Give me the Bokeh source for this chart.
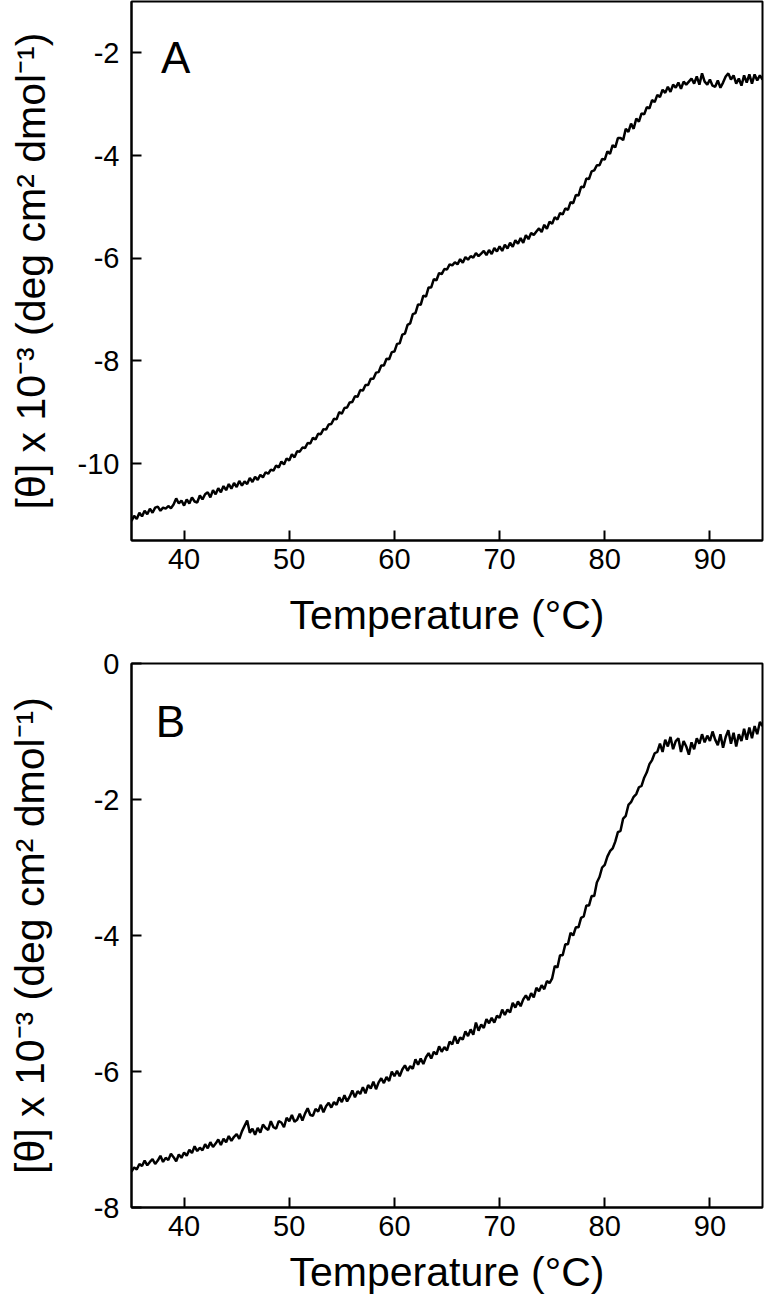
from bokeh.plotting import figure
from bokeh.layouts import column
from bokeh.models import Range1d, FixedTicker, Label
from bokeh.embed import file_html
from bokeh.resources import INLINE

# ---------------- data ----------------
theta_a = [
    -11.12, -11.02, -11.08, -10.96, -11.03, -10.92, -10.99, -10.88,  # 35-36.75
    -10.96, -10.86, -10.84, -10.92, -10.86, -10.88, -10.83, -10.87,  # 37-38.75
    -10.80, -10.68, -10.78, -10.72, -10.82, -10.70, -10.78, -10.66,  # 39-40.75
    -10.74, -10.76, -10.62, -10.70, -10.60, -10.56, -10.66, -10.52,  # 41-42.75
    -10.60, -10.48, -10.56, -10.44, -10.52, -10.40, -10.49, -10.38,  # 43-44.75
    -10.46, -10.34, -10.43, -10.35, -10.40, -10.28, -10.36, -10.26,  # 45-46.75
    -10.32, -10.22, -10.27, -10.17, -10.20, -10.12, -10.14, -10.04,  # 47-48.75
    -10.08, -9.96, -10.02, -9.90, -9.94, -9.82, -9.88, -9.76,        # 49-50.75
    -9.77, -9.69, -9.70, -9.60, -9.61, -9.50, -9.53, -9.42,          # 51-52.75
    -9.43, -9.33, -9.34, -9.24, -9.23, -9.13, -9.14, -9.00,          # 53-54.75
    -9.03, -8.92, -8.91, -8.81, -8.80, -8.69, -8.70, -8.57,          # 55-56.75
    -8.58, -8.47, -8.47, -8.35, -8.35, -8.23, -8.22, -8.09,          # 57-58.75
    -8.09, -7.96, -7.97, -7.83, -7.82, -7.67, -7.66, -7.49,          # 59-60.75
    -7.47, -7.30, -7.27, -7.09, -7.07, -6.90, -6.91, -6.73,          # 61-62.75
    -6.75, -6.57, -6.57, -6.41, -6.43, -6.29, -6.31, -6.21,          # 63-64.75
    -6.22, -6.12, -6.14, -6.08, -6.12, -6.02, -6.09, -5.98,          # 65-66.75
    -6.03, -5.96, -5.99, -5.90, -5.96, -5.91, -5.86, -5.94,          # 67-68.75
    -5.84, -5.92, -5.80, -5.87, -5.77, -5.86, -5.74, -5.81,          # 69-70.75
    -5.70, -5.78, -5.65, -5.72, -5.61, -5.70, -5.55, -5.63,          # 71-72.75
    -5.51, -5.55, -5.48, -5.42, -5.49, -5.35, -5.43, -5.29,          # 73-74.75
    -5.33, -5.20, -5.25, -5.12, -5.15, -5.03, -5.06, -4.91,          # 75-76.75
    -4.93, -4.77, -4.78, -4.61, -4.62, -4.45, -4.46, -4.31,          # 77-78.75
    -4.29, -4.19, -4.19, -4.07, -4.08, -3.92, -3.97, -3.80,          # 79-80.75
    -3.84, -3.66, -3.66, -3.70, -3.48, -3.54, -3.38, -3.48,          # 81-82.75
    -3.28, -3.34, -3.18, -3.20, -3.06, -3.08, -2.92, -2.96,          # 83-84.75
    -2.82, -2.86, -2.72, -2.78, -2.66, -2.76, -2.62, -2.68,          # 85-86.75
    -2.58, -2.70, -2.56, -2.62, -2.56, -2.50, -2.60, -2.46,          # 87-88.75
    -2.62, -2.40, -2.56, -2.62, -2.52, -2.64, -2.66, -2.54,          # 89-90.75
    -2.68, -2.58, -2.46, -2.40, -2.52, -2.44, -2.60, -2.50,          # 91-92.75
    -2.64, -2.44, -2.58, -2.42, -2.60, -2.42, -2.54, -2.44,          # 93-94.75
    -2.52]                                                            # 95
theta_b = [
    -7.47, -7.41, -7.44, -7.36, -7.39, -7.31, -7.38, -7.33,  # 35-36.75
    -7.29, -7.36, -7.31, -7.24, -7.33, -7.27, -7.30, -7.21,  # 37-38.75
    -7.26, -7.32, -7.22, -7.27, -7.19, -7.24, -7.15, -7.20,  # 39-40.75
    -7.10, -7.17, -7.12, -7.16, -7.07, -7.13, -7.04, -7.11,  # 41-42.75
    -7.06, -7.00, -7.08, -6.99, -7.04, -6.95, -7.02, -6.96,  # 43-44.75
    -6.92, -6.99, -6.88, -6.80, -6.72, -6.90, -6.84, -6.93,  # 45-46.75
    -6.83, -6.90, -6.78, -6.83, -6.86, -6.73, -6.82, -6.84,  # 47-48.75
    -6.73, -6.75, -6.82, -6.68, -6.73, -6.64, -6.74, -6.71,  # 49-50.75
    -6.62, -6.72, -6.62, -6.54, -6.64, -6.65, -6.55, -6.59,  # 51-52.75
    -6.49, -6.60, -6.51, -6.46, -6.53, -6.45, -6.49, -6.38,  # 53-54.75
    -6.45, -6.35, -6.44, -6.37, -6.28, -6.38, -6.29, -6.33,  # 55-56.75
    -6.23, -6.32, -6.20, -6.25, -6.15, -6.26, -6.16, -6.10,  # 57-58.75
    -6.17, -6.08, -6.14, -6.00, -6.07, -5.99, -6.07, -5.97,  # 59-60.75
    -5.91, -5.99, -5.92, -5.96, -5.82, -5.90, -5.81, -5.89,  # 61-62.75
    -5.79, -5.73, -5.81, -5.71, -5.75, -5.63, -5.71, -5.64,  # 63-64.75
    -5.69, -5.56, -5.60, -5.48, -5.59, -5.50, -5.53, -5.41,  # 65-66.75
    -5.48, -5.38, -5.46, -5.28, -5.40, -5.31, -5.36, -5.23,  # 67-68.75
    -5.29, -5.21, -5.28, -5.18, -5.21, -5.09, -5.17, -5.09,  # 69-70.75
    -5.13, -4.99, -5.06, -4.97, -5.04, -4.94, -4.88, -4.95,  # 71-72.75
    -4.85, -4.91, -4.77, -4.82, -4.73, -4.79, -4.67, -4.70,  # 73-74.75
    -4.63, -4.45, -4.47, -4.29, -4.29, -4.13, -4.13, -3.96,  # 75-76.75
    -4.00, -3.88, -3.88, -3.74, -3.72, -3.56, -3.56, -3.42,  # 77-78.75
    -3.42, -3.22, -3.14, -3.00, -2.96, -2.84, -2.76, -2.72,  # 79-80.75
    -2.62, -2.48, -2.46, -2.28, -2.24, -2.08, -2.04, -1.96,  # 81-82.75
    -1.92, -1.82, -1.80, -1.68, -1.60, -1.48, -1.42, -1.32,  # 83-84.75
    -1.30, -1.18, -1.30, -1.12, -1.22, -1.08, -1.26, -1.14,  # 85-86.75
    -1.10, -1.30, -1.14, -1.22, -1.34, -1.16, -1.26, -1.10,  # 87-88.75
    -1.18, -1.04, -1.16, -1.06, -1.14, -1.00, -1.12, -1.20,  # 89-90.75
    -1.04, -1.24, -1.08, -0.98, -1.18, -1.02, -1.22, -1.04,  # 91-92.75
    -1.14, -0.96, -1.12, -0.94, -1.10, -0.92, -1.04, -0.86,  # 93-94.75
    -0.92]                                                    # 95
temp_a = [35.0 + 0.25 * i for i in range(len(theta_a))]
temp_b = [35.0 + 0.25 * i for i in range(len(theta_b))]

x_ticks = [40, 50, 60, 70, 80, 90]
x_tick_labels = ["40", "50", "60", "70", "80", "90"]
y_ticks_a = [-10, -8, -6, -4, -2]
y_tick_labels_a = ["-10", "-8", "-6", "-4", "-2"]
y_ticks_b = [-8, -6, -4, -2, 0]
y_tick_labels_b = ["-8", "-6", "-4", "-2", "0"]

x_label = "Temperature (\u00b0C)"
y_label = "[\u03b8] x 10\u207b\u00b3 (deg cm\u00b2 dmol\u207b\u00b9)"

FONT = "Liberation Sans"


def panel(xs, ys, yr, yticks, ylabels, letter, letter_xy, height, b_top, b_bottom,
          ylab_standoff, xlab_standoff):
    p = figure(width=765, height=height, x_range=Range1d(35, 95), y_range=Range1d(*yr),
               output_backend="svg", toolbar_location=None,
               min_border_left=131, min_border_right=3, min_border_top=b_top,
               min_border_bottom=b_bottom)
    p.line(xs, ys, line_color="black", line_width=2.5)
    p.grid.visible = False
    p.outline_line_color = "black"
    p.outline_line_width = 2
    p.outline_line_alpha = 1
    p.background_fill_color = "white"
    p.border_fill_color = "white"

    p.xaxis.ticker = FixedTicker(ticks=x_ticks)
    p.xaxis.major_label_overrides = dict(zip(x_ticks, x_tick_labels))
    p.yaxis.ticker = FixedTicker(ticks=yticks)
    p.yaxis.major_label_overrides = dict(zip(yticks, ylabels))
    for ax in (p.xaxis, p.yaxis):
        ax.axis_line_color = "black"
        ax.axis_line_width = 2
        ax.major_tick_line_color = "black"
        ax.major_tick_line_width = 2
        ax.major_tick_in = 10
        ax.major_tick_out = 0
        ax.minor_tick_line_color = None
        ax.major_label_text_font = FONT
        ax.major_label_text_font_size = "29px"
        ax.major_label_text_color = "black"
        ax.axis_label_text_font = FONT
        ax.axis_label_text_font_size = "41px"
        ax.axis_label_text_font_style = "normal"
        ax.axis_label_text_color = "black"
    p.xaxis.axis_label = x_label
    p.yaxis.axis_label = y_label
    p.xaxis.major_label_standoff = 8
    p.xaxis.axis_label_standoff = xlab_standoff
    p.yaxis.major_label_standoff = 12
    p.yaxis.axis_label_standoff = ylab_standoff

    p.add_layout(Label(x=letter_xy[0], y=letter_xy[1], text=letter,
                       text_font=FONT, text_font_size="44px", text_color="black",
                       text_baseline="alphabetic"))
    return p


pa = panel(temp_a, theta_a, (-11.5, -1.0), y_ticks_a, y_tick_labels_a, "A", (37.8, -2.1),
           640, 1, 96, 21, 20)
pb = panel(temp_b, theta_b, (-8.0, 0.0), y_ticks_b, y_tick_labels_b, "B", (37.3, -0.85),
           657, 23, 90, 38, 10)

layout = column(pa, pb, spacing=0)
open("out.html", "w").write(file_html(layout, INLINE))
